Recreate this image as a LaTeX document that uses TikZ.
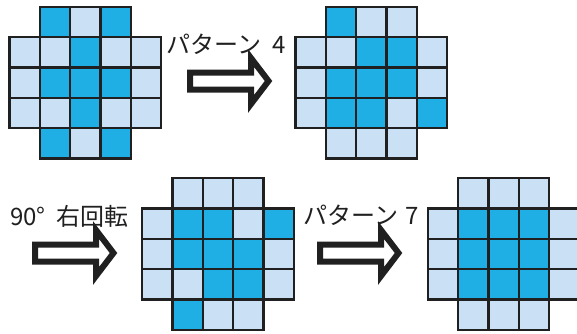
\documentclass[tikz,border=0pt]{standalone}
\usepackage{fontspec}
\newfontfamily\jpfont{Noto Sans CJK JP}
\usepackage{tikz}
\usetikzlibrary{positioning}

\definecolor{celdaazul}{RGB}{32,175,228}
\definecolor{celdaclara}{RGB}{202,224,244}
\definecolor{tinta}{RGB}{32,32,32}

% Cuadricula de 5x5 sin esquinas: #1,#2 = esquina superior izquierda, #3 = filas (0 vacio, 1 claro, 2 azul)
\newcommand{\rejilla}[3]{%
  \foreach \fila [count=\nf from 0] in {#3} {
    \foreach \v [count=\nc from 0] in \fila {
      \ifnum\v=1 \filldraw[celda clara] ({#1+\nc*30.3},{#2+\nf*30.3}) rectangle ++(30.3,30.3); \fi
      \ifnum\v=2 \filldraw[celda azul] ({#1+\nc*30.3},{#2+\nf*30.3}) rectangle ++(30.3,30.3); \fi
    }
  }
}

\begin{document}
\begin{tikzpicture}[
    x=1pt,
    y=-1pt,
    % Estilos de las celdas, los rotulos y las flechas
    celda clara/.style={fill=celdaclara, draw=tinta, line width=2.3pt},
    celda azul/.style={fill=celdaazul, draw=tinta, line width=2.3pt},
    rotulo/.style={font=\jpfont\fontsize{24}{24}\selectfont, text=tinta, inner sep=0pt, anchor=west},
    flecha borde/.style={draw=tinta, fill=white, line width=6pt, line join=miter},
    flecha/.pic={
        \draw[flecha borde] (3,8.5) -- (64,8.5) -- (64,23) -- (81.5,0)
            -- (64,-23) -- (64,-8.5) -- (3,-8.5) -- cycle;
    }
]
    \useasboundingbox (0,0) rectangle (577,333);
    \clip (0,0) rectangle (577,333);

    % --- 1. CUADRICULAS ---
    % Estado inicial (arriba a la izquierda)
    \rejilla{9.5}{7}{{0,2,1,2,0},{1,1,2,1,1},{1,2,2,2,1},{1,1,2,1,1},{0,2,1,2,0}}
    % Tras la patron 4 (arriba a la derecha)
    \rejilla{295.5}{7}{{0,2,1,1,0},{1,1,2,2,1},{1,2,2,2,1},{1,2,2,1,2},{0,1,1,1,0}}
    % Tras el giro de 90 grados (abajo, centro)
    \rejilla{142.3}{178.3}{{0,1,1,1,0},{1,2,2,1,2},{1,2,2,2,1},{1,1,2,2,1},{0,2,1,1,0}}
    % Tras la patron 7 (abajo a la derecha, cortada por el borde)
    \rejilla{428}{178.3}{{0,1,1,1,0},{1,2,2,2,1},{1,2,2,2,1},{1,2,2,2,1},{0,1,1,1,0}}

    % --- 2. FLECHAS ---
    \pic (fl1) at (187,81) {flecha};
    \pic (fl2) at (32,253) {flecha};
    \pic (fl3) at (317,253) {flecha};

    % --- 3. ROTULOS ---
    \node[rotulo] (txt4) at (166,44) {パターン\hspace{0.5em}4};
    \node[rotulo] (txt90) at (10,216) {90°\hspace{0.45em}右回転};
    \node[rotulo] (txt7) at (303,215) {パターン\hspace{0.3em}7};

\end{tikzpicture}
\end{document}
